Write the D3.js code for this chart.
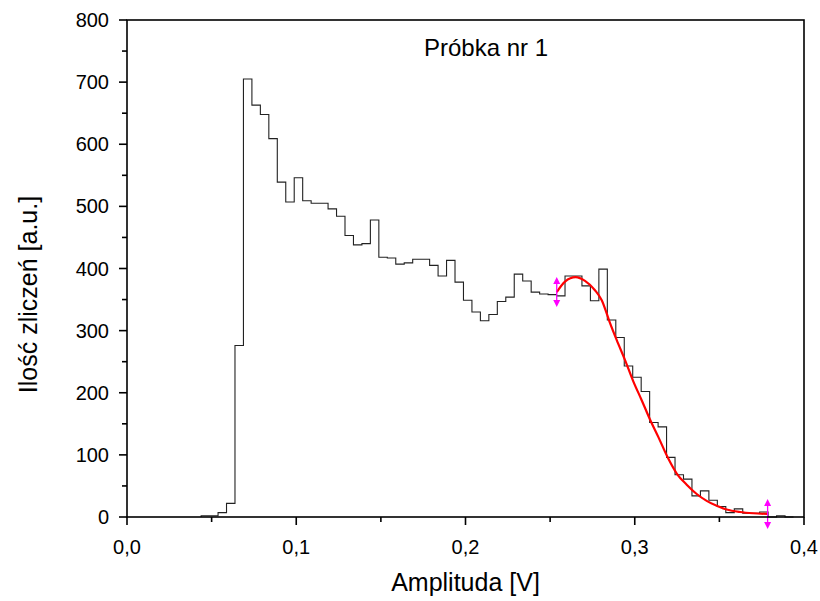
<!DOCTYPE html>
<html>
<head>
<meta charset="utf-8">
<script src="https://cdn.jsdelivr.net/npm/d3@7"></script>
<style>
  body { margin: 0; background: #fff; }
  svg { display: block; font-family: "Liberation Sans", Arial, sans-serif; }
</style>
</head>
<body>
<svg id="chart"></svg>
<script>
// histogram: bins of 0.005 V starting at 0.0438 V
const binStart = 0.0438;
const binWidth = 0.005;
const counts = [
    2, 2, 7, 22, 276, 705, 663, 648, 609, 539,
    507, 546, 509, 505, 505, 496, 484, 453, 438, 440,
    478, 418, 417, 407, 409, 415, 415, 405, 388, 413,
    378, 349, 330, 316, 326, 347, 354, 391, 380, 362,
    359, 358, 356, 388, 388, 372, 348, 399, 317, 289,
    243, 225, 202, 152, 145, 96, 68, 61, 34, 42,
    27, 17, 7, 13, 6, 6, 8, 0, 2, 0
];

// fitted curve
const fitX = [0.2539, 0.2588, 0.2651, 0.2706, 0.2765, 0.2805, 0.2854, 0.2893, 0.2942, 0.2992,
    0.3041, 0.3090, 0.3139, 0.3198, 0.3248, 0.3307, 0.3366, 0.3425, 0.3484, 0.3543,
    0.3622, 0.3700, 0.3785];
const fitY = [362, 379, 386, 380, 365, 349, 312, 285, 253, 218,
    188, 157, 129, 94, 70, 52, 37, 26, 18, 12,
    8, 6, 5];

const xTicks = [0, 0.1, 0.2, 0.3, 0.4];
const xMinor = [0.05, 0.15, 0.25, 0.35];
const yTicks = [0, 100, 200, 300, 400, 500, 600, 700, 800];
const yMinor = [50, 150, 250, 350, 450, 550, 650, 750];

const width = 820, height = 601;
const svg = d3.select("#chart").attr("width", width).attr("height", height);

const x = d3.scaleLinear().domain([0, 0.4]).range([127, 804]);
const y = d3.scaleLinear().domain([0, 800]).range([517, 20]);

// histogram step line
const pts = [[binStart, 0]];
counts.forEach((c, i) => pts.push([binStart + i * binWidth, c]));
pts.push([binStart + counts.length * binWidth, 0]);

const step = d3.line()
    .x(d => x(d[0]))
    .y(d => y(d[1]))
    .curve(d3.curveStepAfter);

svg.append("path")
    .attr("d", step(pts))
    .attr("fill", "none")
    .attr("stroke", "#222")
    .attr("stroke-width", 1.1);

// fit curve
const fit = fitX.map((v, i) => [v, fitY[i]]);
svg.append("path")
    .attr("d", d3.line().x(d => x(d[0])).y(d => y(d[1])).curve(d3.curveMonotoneX)(fit))
    .attr("fill", "none")
    .attr("stroke", "#ff0000")
    .attr("stroke-width", 2.2);

// range markers at ends of the fit
[fit[0], fit[fit.length - 1]].forEach(p => {
    const cx = x(p[0]), cy = y(p[1]);
    const g = svg.append("g").attr("fill", "#ff00ff").attr("stroke", "#ff00ff");
    g.append("line").attr("x1", cx).attr("x2", cx).attr("y1", cy - 12).attr("y2", cy + 12)
        .attr("stroke-width", 1.3);
    g.append("path").attr("stroke", "none")
        .attr("d", `M${cx},${cy - 15}L${cx - 3.5},${cy - 8}L${cx + 3.5},${cy - 8}Z M${cx},${cy + 15}L${cx - 3.5},${cy + 8}L${cx + 3.5},${cy + 8}Z`);
});

// frame
svg.append("rect")
    .attr("x", x(0)).attr("y", y(800))
    .attr("width", x(0.4) - x(0)).attr("height", y(0) - y(800))
    .attr("fill", "none").attr("stroke", "#000").attr("stroke-width", 1.6);

// bottom axis
const bottom = svg.append("g");
bottom.selectAll(".maj").data(xTicks).enter().append("line")
    .attr("x1", d => x(d)).attr("x2", d => x(d))
    .attr("y1", y(0)).attr("y2", y(0) + 8)
    .attr("stroke", "#000").attr("stroke-width", 1.6);
bottom.selectAll(".min").data(xMinor).enter().append("line")
    .attr("x1", d => x(d)).attr("x2", d => x(d))
    .attr("y1", y(0)).attr("y2", y(0) + 5)
    .attr("stroke", "#000").attr("stroke-width", 1.6);
bottom.selectAll("text").data(xTicks).enter().append("text")
    .attr("x", d => x(d)).attr("y", 554)
    .attr("text-anchor", "middle")
    .attr("font-size", 20)
    .text(d => d3.format(".1f")(d).replace(".", ","));

// left axis
const left = svg.append("g");
left.selectAll(".maj").data(yTicks).enter().append("line")
    .attr("x1", x(0) - 8).attr("x2", x(0))
    .attr("y1", d => y(d)).attr("y2", d => y(d))
    .attr("stroke", "#000").attr("stroke-width", 1.6);
left.selectAll(".min").data(yMinor).enter().append("line")
    .attr("x1", x(0) - 5).attr("x2", x(0))
    .attr("y1", d => y(d)).attr("y2", d => y(d))
    .attr("stroke", "#000").attr("stroke-width", 1.6);
left.selectAll("text").data(yTicks).enter().append("text")
    .attr("x", 109).attr("y", d => y(d))
    .attr("dy", "0.35em")
    .attr("text-anchor", "end")
    .attr("font-size", 20)
    .text(d => d);

// titles
svg.append("text")
    .attr("x", (x(0) + x(0.4)) / 2).attr("y", 591)
    .attr("text-anchor", "middle")
    .attr("font-size", 25)
    .text("Amplituda [V]");

svg.append("text")
    .attr("transform", `translate(37,${(y(0) + y(800)) / 2 + 26}) rotate(-90)`)
    .attr("text-anchor", "middle")
    .attr("font-size", 25)
    .text("Ilość zliczeń [a.u.]");

svg.append("text")
    .attr("x", 486).attr("y", 56)
    .attr("text-anchor", "middle")
    .attr("font-size", 24)
    .text("Próbka nr 1");
</script>
</body>
</html>
